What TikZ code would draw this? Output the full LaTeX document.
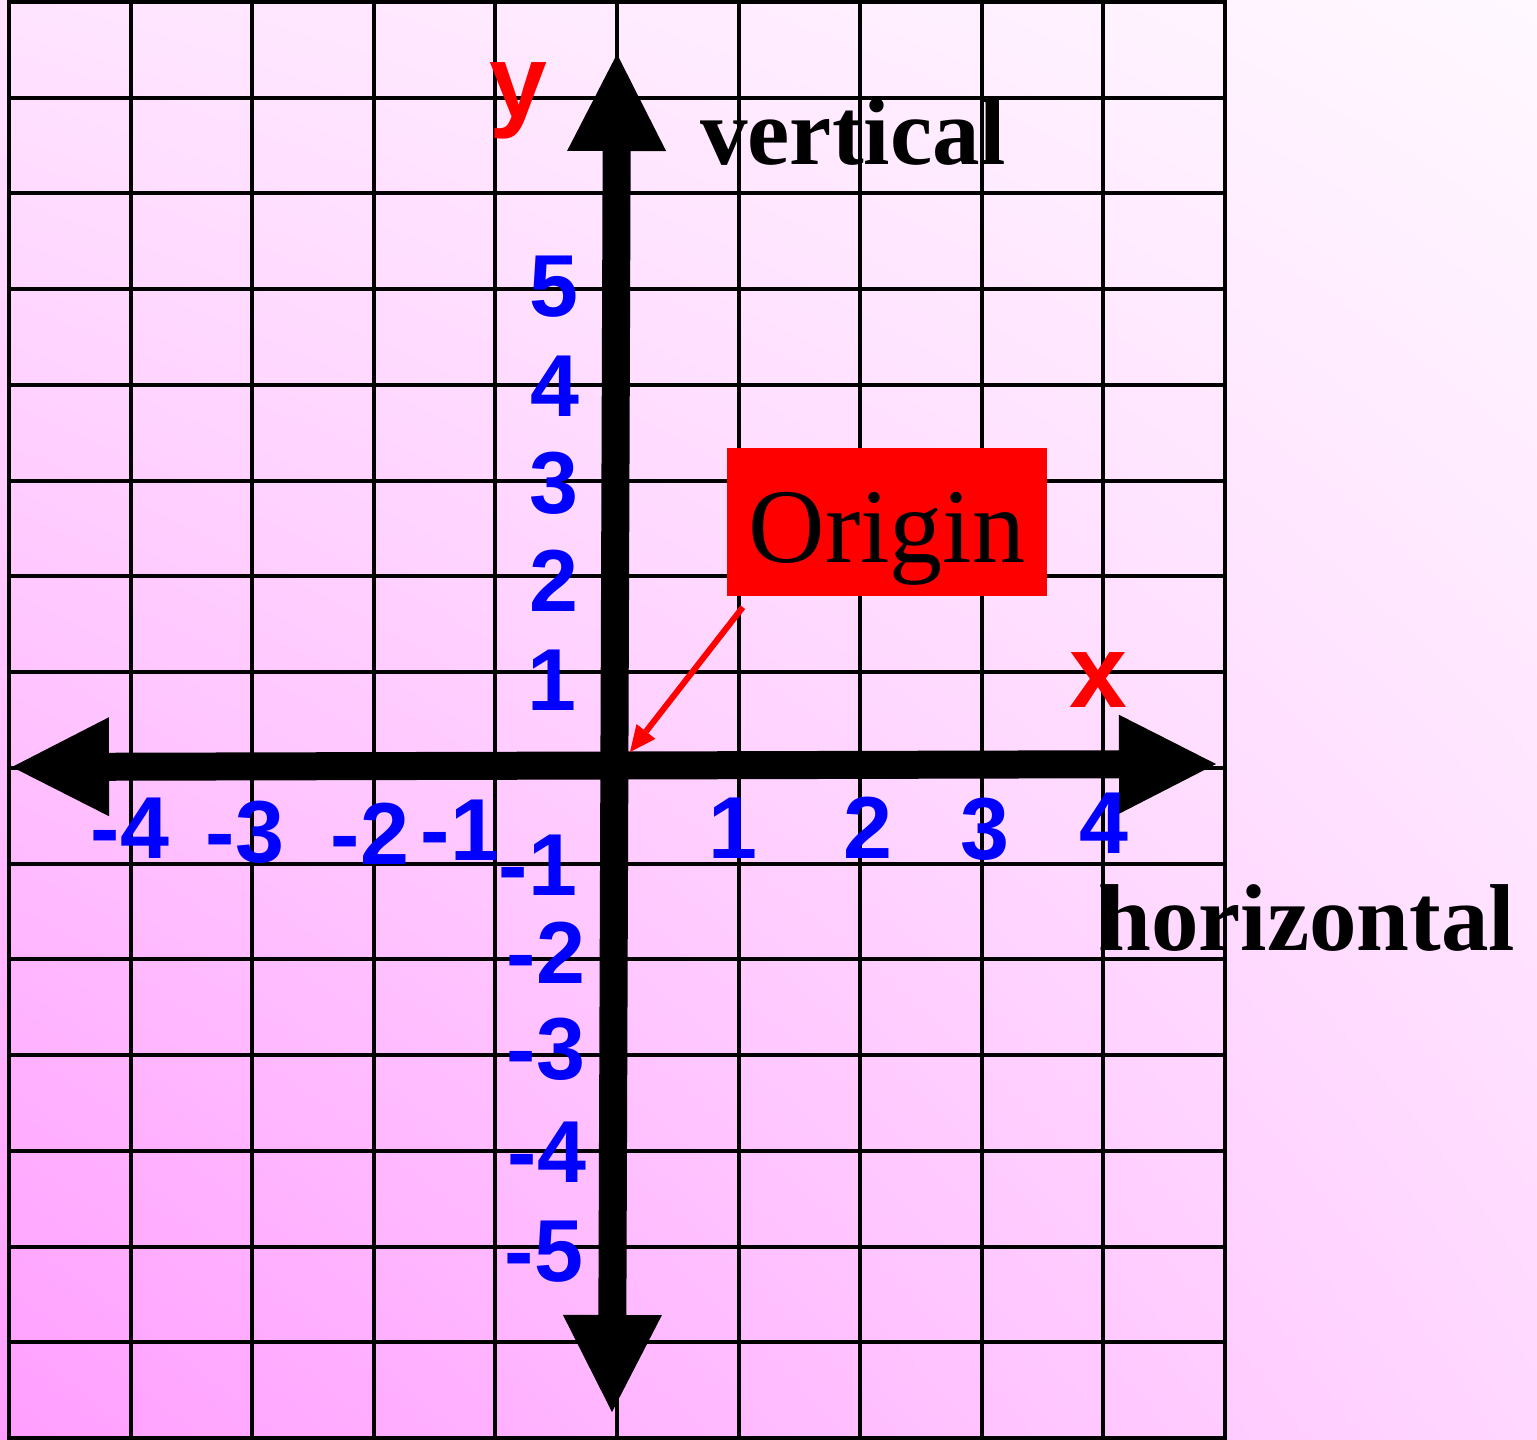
\documentclass[tikz,border=0pt]{standalone}
\usepackage{fontspec}
\setmainfont{Liberation Serif}
\newfontfamily\arialfont{Liberation Sans}
\usepackage{tikz}
\usetikzlibrary{arrows.meta, positioning, shadings}

\definecolor{bgtopleft}{RGB}{255,228,255}
\definecolor{bgtopright}{RGB}{255,248,255}
\definecolor{bgbotleft}{RGB}{255,158,255}
\definecolor{bgbotright}{RGB}{255,215,255}
\definecolor{numblue}{RGB}{0,0,255}

\begin{document}
\begin{tikzpicture}[
        x=1bp, y=-1bp,
        >={Triangle[length=97bp, width=99bp, line width=0pt]},
        gridline/.style={line width=4bp, black},
        axis/.style={line width=28bp, black, <->},
        numlabel/.style={text=numblue, inner sep=0pt, anchor=base,
            font=\arialfont\bfseries\fontsize{88bp}{88bp}\selectfont},
        axisletter/.style={text=red, inner sep=0pt, anchor=base,
            font=\arialfont\bfseries\fontsize{104bp}{104bp}\selectfont},
        axisword/.style={inner sep=0pt, anchor=base west,
            font=\bfseries\fontsize{95bp}{95bp}\selectfont},
        originbox/.style={fill=red, inner sep=0pt, minimum width=320bp,
            minimum height=148bp, text height=100bp, text depth=20bp,
            font=\fontsize{106bp}{106bp}\selectfont},
        pointer/.style={red, line width=6bp,
            -{Triangle[length=26bp, width=24bp, line width=0pt]}}
    ]
        \useasboundingbox (0,0) rectangle (1537,1440);
        % background
        \shade[upper left=bgtopleft, upper right=bgtopright,
            lower left=bgbotleft, lower right=bgbotright]
            (0,0) rectangle (1537,1440);

        % grid
        \foreach \i in {0,...,10}
            \draw[gridline] ({9+121.6*\i},0) -- ({9+121.6*\i},1440);
        \foreach \j in {0,...,15}
            \draw[gridline] (7,{2+95.73*\j}) -- (1227,{2+95.73*\j});

        % axes
        \coordinate (xleft) at (12,767);
        \coordinate (xright) at (1216,764);
        \coordinate (ytop) at (617,54);
        \coordinate (ybottom) at (612,1412);
        \coordinate (o) at (630,752);
        \draw[axis] (xleft) -- (xright);
        \draw[axis] (ybottom) -- (ytop);

        % numbers on the x axis
        \foreach \t/\n/\x/\y in {-4/xm4/130/858, -3/xm3/245/862, -2/xm2/370/864,
                -1/xm1/460/860, 1/xp1/733/858, 2/xp2/868/858, 3/xp3/985/859,
                4/xp4/1104/853}
            \node[numlabel] (\n) at (\x,\y) {\t};
        % numbers on the y axis
        \foreach \t/\n/\x/\y in {5/yp5/554/316, 4/yp4/555/416, 3/yp3/554/513,
                2/yp2/554/611, 1/yp1/552/710, -1/ym1/538/895, -2/ym2/546/983,
                -3/ym3/546/1079, -4/ym4/547/1182, -5/ym5/544/1281}
            \node[numlabel] (\n) at (\x,\y) {\t};

        \node[axisletter] (ylab) at (518,118) {y};
        \node[axisletter] (xlab) at (1098,707) {x};
        \node[axisword] (vword) at (700,165) {vertical};
        \node[axisword] (hword) at (1098,950) {horizontal};

        \node[originbox] (origin) at (887,522) {Origin};
        \draw[pointer] ([shift={(16,11)}]origin.south west) -- (o);
\end{tikzpicture}
\end{document}
